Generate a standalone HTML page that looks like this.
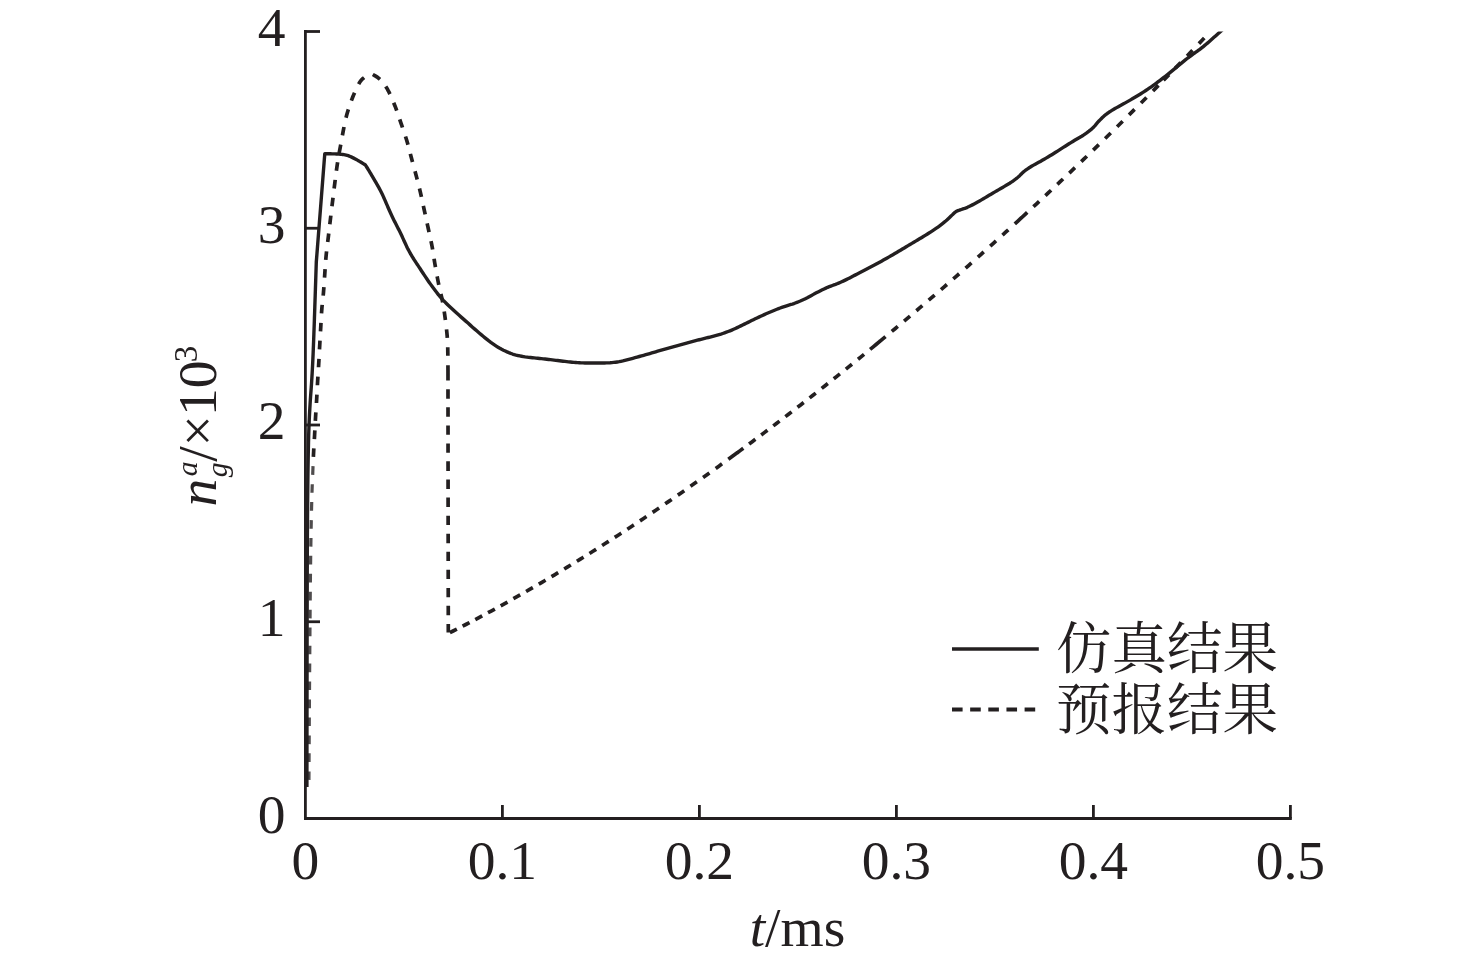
<!DOCTYPE html><html><head><meta charset="utf-8"><style>html,body{margin:0;padding:0;background:#fff;overflow:hidden;width:1476px;height:964px}svg{display:block}</style></head><body>
<svg width="1476" height="964" viewBox="0 0 1476 964">
<rect width="1476" height="964" fill="#fff"/>
<defs><clipPath id="pa"><rect x="300" y="31.5" width="1000" height="790"/></clipPath></defs>
<g clip-path="url(#pa)">
<path d="M306.9 787L306.91 782.03L306.92 770.37L306.94 754.27L306.96 735.96L306.98 717.71L307 701.75L307.02 687.95L307.04 674.14L307.05 660.37L307.08 646.72L307.1 633.24L307.12 620L307.15 607.88L307.18 595.83L307.21 583.93L307.24 572.26L307.28 560.92L307.33 550L307.37 541.11L307.41 532.5L307.46 524.12L307.52 515.93L307.58 507.9L307.65 500L307.72 493.08L307.79 486.31L307.86 479.67L307.94 473.13L308.04 466.67L308.15 460.25L308.26 454.26L308.38 448.29L308.5 442.38L308.65 436.59L308.81 430.94L309 425.5L309.19 421.02L309.39 416.67L309.61 412.43L309.84 408.29L310.08 404.23L310.32 400.25L310.55 396.83L310.79 393.53L311.03 390.29L311.27 387.07L311.51 383.83L311.72 380.5L311.94 376.94L312.15 373.37L312.34 369.77L312.53 366.11L312.72 362.36L312.9 358.5L313.11 353.89L313.3 349.14L313.49 344.27L313.68 339.31L313.87 334.29L314.05 329.25L314.25 323.76L314.44 318.17L314.63 312.52L314.82 306.83L315.01 301.15L315.2 295.5L315.41 289.18L315.65 281.99L315.88 274.81L316.09 268.5L316.24 263.94L316.3 262L316.98 253.36L318.54 233.4L320.55 207.8L322.56 182.2L324.12 162.24L324.8 153.6L325.22 153.61L326.2 153.64L327.56 153.68L329.12 153.73L330.7 153.78L332.1 153.83L333.47 153.87L334.87 153.9L336.28 153.94L337.7 154L339.08 154.08L340.43 154.2L341.61 154.33L342.77 154.48L343.91 154.65L345.04 154.85L346.14 155.09L347.23 155.38L348.24 155.7L349.24 156.07L350.21 156.48L351.18 156.92L352.15 157.38L353.12 157.85L354.18 158.38L355.25 158.94L356.31 159.53L357.38 160.13L358.43 160.74L359.48 161.35L360.61 162.02L361.88 162.8L363.15 163.59L364.26 164.28L365.06 164.79L365.4 165L365.62 165.34L366.13 166.15L366.83 167.27L367.63 168.53L368.42 169.8L369.1 170.9L369.66 171.83L370.22 172.76L370.76 173.69L371.3 174.62L371.84 175.54L372.38 176.45L372.89 177.33L373.4 178.2L373.91 179.06L374.42 179.93L374.93 180.81L375.45 181.7L376.01 182.66L376.58 183.63L377.15 184.6L377.73 185.6L378.3 186.61L378.88 187.65L379.51 188.83L380.14 190.04L380.78 191.28L381.41 192.54L382.04 193.8L382.65 195.07L383.26 196.39L383.86 197.73L384.45 199.07L385.04 200.42L385.62 201.77L386.2 203.1L386.76 204.39L387.31 205.68L387.86 206.96L388.41 208.23L388.96 209.51L389.52 210.78L390.09 212.03L390.65 213.27L391.23 214.52L391.8 215.76L392.38 216.99L392.98 218.23L393.57 219.45L394.18 220.67L394.8 221.89L395.41 223.1L396.03 224.31L396.65 225.52L397.27 226.73L397.89 227.93L398.51 229.12L399.13 230.32L399.75 231.53L400.35 232.75L400.95 234.01L401.55 235.28L402.14 236.57L402.72 237.85L403.31 239.14L403.9 240.43L404.5 241.72L405.09 243.02L405.69 244.33L406.29 245.63L406.9 246.91L407.52 248.18L408.14 249.38L408.77 250.57L409.41 251.76L410.06 252.92L410.71 254.08L411.38 255.22L412.03 256.33L412.7 257.42L413.38 258.5L414.07 259.57L414.75 260.63L415.42 261.68L416.06 262.64L416.68 263.58L417.3 264.5L417.92 265.43L418.56 266.38L419.22 267.38L420 268.54L420.77 269.73L421.57 270.95L422.39 272.21L423.25 273.5L424.15 274.85L425.34 276.63L426.6 278.5L427.91 280.44L429.27 282.42L430.65 284.39L432.05 286.32L433.53 288.32L435.03 290.33L436.56 292.33L438.14 294.32L439.75 296.28L441.4 298.2L443.11 300.08L444.86 301.91L446.65 303.71L448.48 305.49L450.36 307.29L452.27 309.1L454.42 311.09L456.64 313.09L458.9 315.09L461.19 317.1L463.48 319.1L465.75 321.1L468 323.1L470.26 325.13L472.52 327.15L474.77 329.14L477 331.09L479.2 332.98L481.17 334.64L483.12 336.29L485.05 337.89L486.97 339.44L488.89 340.94L490.82 342.38L492.62 343.65L494.42 344.88L496.22 346.06L498.02 347.19L499.84 348.26L501.68 349.28L503.45 350.2L505.25 351.07L507.05 351.9L508.87 352.67L510.69 353.38L512.52 354.02L514.31 354.58L516.11 355.08L517.92 355.52L519.74 355.91L521.56 356.27L523.38 356.6L525.17 356.89L526.98 357.14L528.78 357.35L530.59 357.54L532.39 357.73L534.2 357.92L536 358.12L537.81 358.31L539.61 358.49L541.42 358.67L543.22 358.86L545.02 359.05L546.83 359.25L548.64 359.46L550.45 359.68L552.26 359.89L554.07 360.11L555.88 360.33L557.68 360.54L559.49 360.77L561.3 360.99L563.11 361.21L564.92 361.42L566.73 361.62L568.53 361.82L570.34 362.02L572.15 362.21L573.96 362.39L575.77 362.54L577.58 362.67L579.38 362.78L581.18 362.86L582.99 362.92L584.79 362.97L586.6 363L588.4 363.03L590.2 363.04L592.01 363.04L593.81 363.02L595.62 363L597.42 362.97L599.23 362.95L601.03 362.94L602.84 362.94L604.65 362.93L606.46 362.91L608.27 362.86L610.08 362.75L611.88 362.6L613.68 362.42L615.48 362.2L617.28 361.95L619.1 361.66L620.92 361.32L622.88 360.92L624.84 360.45L626.82 359.94L628.81 359.4L630.81 358.85L632.83 358.3L634.96 357.72L637.12 357.13L639.3 356.51L641.48 355.9L643.64 355.28L645.77 354.67L647.79 354.1L649.8 353.52L651.79 352.94L653.77 352.36L655.73 351.79L657.67 351.23L659.51 350.7L661.33 350.17L663.13 349.66L664.93 349.14L666.72 348.63L668.52 348.12L670.33 347.62L672.14 347.13L673.95 346.63L675.76 346.14L677.57 345.65L679.38 345.15L681.18 344.65L682.98 344.15L684.79 343.64L686.59 343.14L688.39 342.64L690.2 342.15L692 341.66L693.81 341.18L695.61 340.71L697.41 340.23L699.22 339.76L701.02 339.3L702.83 338.85L704.64 338.4L706.45 337.96L708.26 337.52L710.07 337.07L711.88 336.6L713.69 336.12L715.5 335.63L717.31 335.14L719.12 334.62L720.93 334.08L722.72 333.5L724.55 332.87L726.36 332.21L728.17 331.52L729.98 330.81L731.78 330.06L733.58 329.3L735.39 328.49L737.2 327.65L739 326.78L740.8 325.89L742.6 325L744.4 324.12L746.2 323.25L748.01 322.36L749.81 321.46L751.61 320.58L753.42 319.69L755.23 318.82L757.03 317.97L758.83 317.12L760.64 316.28L762.45 315.45L764.26 314.63L766.08 313.82L767.88 313.03L769.7 312.24L771.53 311.46L773.34 310.69L775.14 309.96L776.92 309.25L778.57 308.62L780.21 308.02L781.83 307.44L783.44 306.88L785.04 306.34L786.62 305.8L788.09 305.32L789.53 304.88L790.96 304.45L792.39 304.02L793.83 303.55L795.3 303.02L796.94 302.4L798.61 301.73L800.29 301.03L801.98 300.28L803.69 299.51L805.4 298.7L807.28 297.76L809.17 296.74L811.08 295.69L812.99 294.62L814.9 293.57L816.8 292.57L818.62 291.65L820.45 290.72L822.27 289.82L824.08 288.94L825.88 288.11L827.65 287.32L829.25 286.67L830.84 286.08L832.42 285.51L833.99 284.96L835.55 284.39L837.1 283.77L838.63 283.13L840.15 282.47L841.66 281.79L843.17 281.09L844.7 280.37L846.25 279.62L847.97 278.78L849.7 277.89L851.46 276.98L853.23 276.06L855.01 275.13L856.8 274.2L858.68 273.24L860.57 272.28L862.48 271.31L864.39 270.33L866.3 269.34L868.2 268.35L870.1 267.34L872.01 266.33L873.91 265.31L875.81 264.28L877.7 263.24L879.6 262.2L881.5 261.15L883.41 260.09L885.31 259.02L887.21 257.94L889.1 256.86L891 255.78L892.9 254.67L894.81 253.56L896.71 252.45L898.6 251.33L900.5 250.2L902.4 249.07L904.3 247.94L906.2 246.8L908.1 245.66L910 244.51L911.9 243.37L913.8 242.22L915.71 241.09L917.62 239.95L919.53 238.82L921.44 237.68L923.34 236.54L925.22 235.38L927.11 234.2L929 233.03L930.88 231.84L932.74 230.64L934.57 229.43L936.35 228.2L938 227.02L939.64 225.82L941.24 224.6L942.8 223.39L944.3 222.19L945.73 221L946.88 219.99L947.98 218.97L949.05 217.95L950.07 216.96L951.05 216.01L952 215.12L952.71 214.46L953.37 213.8L954.01 213.18L954.65 212.59L955.31 212.05L956 211.57L956.66 211.21L957.34 210.91L958.02 210.65L958.73 210.4L959.47 210.16L960.25 209.87L961.32 209.49L962.45 209.11L963.63 208.71L964.85 208.29L966.1 207.82L967.38 207.3L968.99 206.57L970.67 205.75L972.4 204.87L974.15 203.94L975.92 202.99L977.67 202.02L979.55 200.97L981.45 199.88L983.35 198.75L985.27 197.6L987.18 196.46L989.1 195.32L991.05 194.18L993.01 193.04L994.97 191.89L996.93 190.74L998.86 189.6L1000.77 188.47L1002.59 187.42L1004.41 186.37L1006.22 185.33L1007.99 184.29L1009.69 183.25L1011.3 182.2L1012.6 181.3L1013.86 180.41L1015.06 179.51L1016.22 178.61L1017.34 177.71L1018.42 176.8L1019.34 175.97L1020.19 175.13L1021 174.29L1021.82 173.45L1022.66 172.63L1023.58 171.82L1024.62 170.98L1025.7 170.16L1026.82 169.36L1027.98 168.57L1029.18 167.77L1030.43 166.98L1031.96 166.05L1033.57 165.13L1035.24 164.22L1036.95 163.3L1038.68 162.37L1040.4 161.4L1042.26 160.33L1044.16 159.23L1046.07 158.11L1048 156.98L1049.92 155.83L1051.82 154.68L1053.74 153.49L1055.65 152.28L1057.56 151.06L1059.46 149.83L1061.37 148.61L1063.28 147.4L1065.18 146.2L1067.1 144.99L1069.02 143.79L1070.93 142.6L1072.83 141.43L1074.7 140.27L1076.46 139.22L1078.22 138.21L1079.97 137.2L1081.69 136.2L1083.35 135.18L1084.95 134.12L1086.34 133.16L1087.68 132.18L1088.97 131.2L1090.24 130.19L1091.46 129.15L1092.65 128.07L1093.76 126.96L1094.82 125.79L1095.83 124.59L1096.84 123.38L1097.87 122.19L1098.95 121.02L1100.08 119.86L1101.23 118.71L1102.39 117.56L1103.59 116.44L1104.82 115.35L1106.1 114.3L1107.48 113.27L1108.92 112.29L1110.39 111.34L1111.9 110.41L1113.43 109.5L1114.97 108.57L1116.64 107.61L1118.34 106.66L1120.06 105.72L1121.8 104.78L1123.54 103.84L1125.28 102.88L1127.03 101.88L1128.8 100.87L1130.57 99.86L1132.34 98.84L1134.09 97.81L1135.82 96.78L1137.51 95.75L1139.18 94.73L1140.84 93.7L1142.49 92.65L1144.14 91.59L1145.8 90.5L1147.51 89.36L1149.22 88.2L1150.92 87.03L1152.63 85.83L1154.35 84.6L1156.08 83.35L1157.92 81.98L1159.78 80.58L1161.64 79.15L1163.5 77.69L1165.36 76.23L1167.2 74.78L1169.03 73.31L1170.86 71.82L1172.69 70.32L1174.49 68.83L1176.28 67.36L1178.02 65.92L1179.6 64.64L1181.15 63.36L1182.68 62.1L1184.19 60.87L1185.68 59.67L1187.15 58.53L1188.42 57.56L1189.67 56.64L1190.9 55.75L1192.12 54.87L1193.35 53.99L1194.57 53.1L1195.81 52.2L1197.04 51.32L1198.27 50.43L1199.5 49.54L1200.73 48.61L1201.97 47.65L1203.33 46.56L1204.7 45.43L1206.07 44.27L1207.45 43.09L1208.81 41.91L1210.17 40.73L1211.54 39.53L1212.89 38.32L1214.25 37.1L1215.59 35.89L1216.94 34.67L1218.28 33.48L1219.74 32.17L1221.4 30.69L1223.05 29.22L1224.51 27.93L1225.55 27L1226 26.6" fill="none" stroke="#231f20" stroke-width="3.4" stroke-linejoin="round"/>
<path d="M313.39 456.86L313.46 455.22L313.54 453.58L313.63 451.93L313.71 450.29L313.81 448.64L313.82 448.37M314.37 439.03L314.47 437.36L314.56 435.77L314.64 434.23L314.72 432.67L314.8 431.11L314.84 430.33M315.34 420.93L315.43 419.39L315.52 417.82L315.62 416.16L315.72 414.5L315.82 412.85L315.86 412.3M316.45 403L316.55 401.33L316.64 399.73L316.73 398.2L316.81 396.65L316.9 395.1L316.92 394.58M317.41 385.24L317.5 383.69L317.59 382.16L317.68 380.51L317.78 378.84L317.89 377.18L317.92 376.63M318.52 367.26L318.62 365.59L318.71 363.94L318.8 362.41L318.89 360.86L318.97 359.31L319 358.79M319.49 349.45L319.57 347.9L319.66 346.37L319.75 344.77L319.84 343.11L319.93 341.45L319.98 340.63M320.51 331.32L320.6 329.67L320.7 328L320.79 326.46L320.87 324.9L320.95 323.34L320.98 322.82M321.51 313.41L321.61 311.86L321.72 310.32L321.85 308.77L321.98 307.17L322.13 305.63L322.21 304.87M323.18 295.65L323.33 294.1L323.48 292.47L323.6 290.87L323.73 289.28L323.85 287.7L323.89 287.18M324.53 277.72L324.63 276.17L324.73 274.62L324.83 273.06L324.93 271.51L325.03 269.95L325.09 269.17M325.75 259.92L325.88 258.41L326.01 256.9L326.15 255.4L326.3 253.9L326.46 252.39L326.57 251.37M327.71 241.98L327.9 240.47L328.1 238.82L328.29 237.25L328.47 235.75L328.64 234.24L328.73 233.49M329.82 224.2L330 222.65L330.18 221.12L330.36 219.63L330.54 218.13L330.71 216.63L330.83 215.61M331.96 206.26L332.15 204.76L332.33 203.25L332.52 201.74L332.7 200.24L332.89 198.73L333.01 197.72M334.13 188.58L334.32 187.04L334.51 185.5L334.7 183.95L334.89 182.41L335.08 180.89L335.21 179.88M336.4 170.78L336.6 169.28L336.81 167.78L337.02 166.28L337.24 164.76L337.46 163.25L337.62 162.24M339.16 153.04L339.44 151.52L339.73 149.97L340.04 148.33L340.35 146.73L340.65 145.15L340.74 144.65M342.41 135.38L342.68 133.89L342.97 132.36L343.25 130.83L343.54 129.29L343.84 127.75L343.99 126.98M346 117.75L346.39 116.27L346.77 114.79L347.2 113.27L347.65 111.72L348.12 110.17L348.36 109.4M351.35 100.7L351.88 99.27L352.47 97.77L353.06 96.29L353.65 94.87L354.25 93.44L354.57 92.71M358.65 84.08L359.44 82.72L360.37 81.32L361.4 80L362.72 78.69L364.11 77.62M372.8 74.5L374.29 75.33L375.69 76.16L377.2 77.13L378.58 78.16L379.75 79.2L379.94 79.37M385.72 86.42L386.58 87.77L387.42 89.17L388.15 90.54L388.88 91.95L389.6 93.41L389.92 94.09M393.67 102.72L394.29 104.24L394.89 105.73L395.47 107.18L396.01 108.64L396.55 110.09L396.72 110.58M399.72 119.38L400.21 120.87L400.72 122.35L401.24 123.89L401.77 125.44L402.31 127.01L402.48 127.51M405.49 136.46L405.98 138.01L406.46 139.54L406.92 141.05L407.36 142.54L407.78 144.02L407.98 144.75M410.33 153.84L410.71 155.31L411.1 156.8L411.5 158.27L411.9 159.76L412.31 161.27L412.52 162.03M415.02 171.21L415.42 172.71L415.81 174.17L416.22 175.72L416.64 177.34L417.06 178.91L417.19 179.42M419.5 188.55L419.86 190.06L420.22 191.62L420.57 193.15L420.91 194.64L421.25 196.18L421.42 196.95M423.34 205.9L423.68 207.46L424.01 208.99L424.33 210.48L424.65 211.95L424.98 213.47L425.2 214.48M427.16 223.43L427.51 225.03L427.86 226.63L428.21 228.25L428.56 229.87L428.91 231.51L429.03 232.06M431 241.08L431.34 242.72L431.67 244.36L431.99 246.01L432.3 247.64L432.59 249.27L432.63 249.54M434.07 258.71L434.32 260.35L434.58 262L434.83 263.51L435.09 265.04L435.38 266.66L435.47 267.18M437.15 276.47L437.44 277.98L437.73 279.49L438.02 280.98L438.32 282.51L438.65 284.13L438.81 284.9M440.89 294.03L441.27 295.66L441.64 297.28L441.99 298.9L442.33 300.54L442.65 302.17L442.7 302.44M444.23 311.6L444.47 313.23L444.7 314.86L444.93 316.52L445.14 318.06L445.33 319.57L445.4 320.11M446.53 329.38L446.69 330.89L446.84 332.4L446.98 333.91L447.11 335.42L447.24 336.93L447.31 337.94M447.74 347.22L447.77 348.87L447.79 350.41L447.81 351.95L447.83 353.52L447.85 355.07L447.85 355.82M447.95 365.29L447.96 366.85L447.97 368.41L447.98 369.94L447.98 371.47L447.99 373L447.99 373.76M447.98 371.22L447.99 372.75L447.99 374.27L447.99 375.79L447.99 377.31L447.99 378.82L447.99 380.34L447.99 380.59M447.99 389.2L447.99 390.73L447.99 392.26L447.99 393.79L447.99 395.34L448 396.9L448 398.45L448 398.71M448.01 407.26L448.01 408.77L448.02 410.27L448.02 411.79L448.02 413.31L448.02 414.83L448.02 416.35L448.02 416.85M448.03 425.46L448.03 426.98L448.03 428.49L448.04 430.01L448.04 431.53L448.04 433.04L448.04 434.56L448.04 434.81M448.05 443.44L448.05 444.97L448.05 446.49L448.05 448.01L448.05 449.53L448.05 451.04L448.06 452.55L448.06 452.81M448.06 461.37L448.06 462.89L448.06 464.4L448.07 465.91L448.07 467.42L448.07 468.93L448.07 470.44L448.07 470.95M448.08 479.53L448.08 481.06L448.08 482.58L448.08 484.1L448.08 485.62L448.09 487.14L448.09 488.66L448.09 488.91M448.1 497.48L448.1 498.99L448.1 500.51L448.1 502.05L448.11 503.58L448.11 505.12L448.11 506.65L448.11 506.91M448.12 515.68L448.13 517.22L448.13 518.76L448.13 520.29L448.13 521.83L448.14 523.37L448.14 524.92M448.15 533.67L448.16 535.2L448.16 536.73L448.16 538.27L448.17 539.81L448.17 541.36L448.17 542.9L448.17 543.16M448.19 551.82L448.19 553.36L448.19 554.89L448.19 556.42L448.2 557.96L448.2 559.49L448.2 561.02M448.21 569.66L448.22 571.19L448.22 572.71L448.22 574.23L448.22 575.76L448.23 577.28L448.23 578.8L448.23 579.06M448.24 587.88L448.24 589.39L448.24 590.9L448.25 592.42L448.25 593.93L448.25 595.46L448.25 596.98L448.25 597.23M448.26 605.85L448.27 607.37L448.27 608.89L448.27 610.42L448.27 611.94L448.27 613.46L448.28 614.98L448.28 615.23M448.29 624.04L448.29 625.57L448.29 627.1L448.29 628.63L448.3 630.16L448.3 631.72L448.3 632.5M449.9 632.65L453.11 631.02L456.33 629.38L456.86 629.11M462.6 626.16L465.8 624.51L469 622.84L469.53 622.56M475.3 619.53L478.48 617.84L481.67 616.15L482.2 615.86M488 612.74L491.17 611.03L494.34 609.3L494.86 609.01M500.7 605.81L503.85 604.07L507 602.31L507.53 602.02M513.4 598.73L516.54 596.96L519.67 595.18L520.2 594.89M526.1 591.51L529.22 589.72L532.34 587.91L532.87 587.61M538.8 584.16L541.91 582.34L545.02 580.51L545.53 580.2M551.5 576.66L554.59 574.82L557.69 572.96L558.2 572.65M564.2 569.03L567.28 567.16L570.36 565.29L570.87 564.97M576.9 561.27L579.96 559.38L583.03 557.48L583.54 557.16M589.5 553.45L592.55 551.53L595.6 549.61L596.11 549.29M602.12 545.48L605.16 543.54L608.19 541.6L608.7 541.28M614.74 537.39L617.76 535.43L620.79 533.47L621.29 533.14M627.36 529.18L630.37 527.2L633.38 525.22L633.88 524.88M639.98 520.84L643.23 518.68L646.47 516.51M652.6 512.39L655.83 510.21L659.07 508.02M665.22 503.82L668.44 501.62L671.66 499.41M677.84 495.14L681.05 492.92L684.25 490.69M690.46 486.34L693.65 484.1L696.85 481.85M703.08 477.43L706.26 475.17L709.44 472.9M715.7 468.41L718.87 466.13L722.03 463.84M728.32 459.28L731.38 457.05L734.44 454.81L737.5 452.57M737 452.94L740.14 450.63L743.29 448.31M749.1 444.01L752.23 441.68L755.36 439.35M761.2 434.98L764.32 432.64L767.44 430.29M773.3 425.86L776.41 423.5L779.52 421.13M785.4 416.63L788.5 414.26L791.59 411.88M797.5 407.32L800.58 404.93L803.67 402.53M809.6 397.9L812.67 395.5L815.74 393.09M821.7 388.39L824.76 385.97L827.82 383.55M833.8 378.79L836.85 376.35L839.9 373.91M845.9 369.09L848.94 366.64L851.97 364.19M858 359.3L861.03 356.84L864.05 354.37M870.1 349.41L873.23 346.84L876.35 344.27L879.48 341.68L880 341.25M879.5 341.67L882.51 339.18L885.51 336.69M891.8 331.45L895.07 328.72L897.79 326.44M904.1 321.13L907.35 318.39L910.06 316.09M916.4 310.72L919.64 307.96L922.34 305.65M928.7 300.21L931.93 297.43L934.62 295.12M941 289.6L944.22 286.81L946.9 284.48M953.3 278.89L956.5 276.09L959.17 273.75M965.6 268.09L968.79 265.27L971.45 262.92M977.9 257.19L981.08 254.36L983.73 251.99M990.2 246.19L993.36 243.34L996 240.97M1002.5 235.09L1005.65 232.23L1008.28 229.84M1014.8 223.89L1017.89 221.07L1020.97 218.23L1022 217.29M1021.5 217.75L1024.63 214.87L1027.24 212.46M1033.45 206.72L1036.57 203.82L1039.17 201.4M1045.4 195.59L1048.51 192.68L1051.1 190.25M1057.35 184.37L1060.44 181.44L1063.02 179M1069.3 173.04L1072.38 170.11L1074.95 167.65M1081.25 161.62L1084.32 158.67L1086.88 156.21M1093.2 150.1L1096.26 147.14L1098.8 144.66M1105.15 138.48L1108.19 135.5L1110.73 133.01M1117.1 126.75L1120.13 123.76L1122.66 121.26M1129.05 114.92L1132.07 111.92L1134.58 109.41M1141 102.99L1144 99.97L1146.51 97.45M1152.95 90.94L1156.24 87.61L1158.43 85.38M1163.5 80.22L1166.78 76.88L1168.96 74.64M1175.3 68.13L1178.56 64.77L1180.74 62.53M1187.1 55.93L1190.35 52.56L1192.51 50.3M1198.9 43.62L1202.13 40.23L1204.28 37.97" fill="none" stroke="#231f20" stroke-width="3.7"/>
<path d="M308.94 779.88L308.95 778.36L308.96 776.81L308.97 775.27L308.98 773.73L308.99 772.18L308.99 771.41M309.04 761.96L309.05 760.43L309.06 758.91L309.07 757.38L309.08 755.85L309.09 754.32L309.1 753.31M309.15 744.13L309.16 742.6L309.17 741.08L309.18 739.55L309.19 738.01L309.2 736.47L309.2 735.45M309.26 726.04L309.27 724.53L309.28 723.02L309.29 721.51L309.3 720L309.31 718.47L309.32 717.45M309.38 708.25L309.39 706.71L309.4 705.17L309.41 703.63L309.42 702.09L309.43 700.55L309.44 699.52M309.5 690.11L309.51 688.6L309.52 687.1L309.53 685.6L309.55 684.09L309.56 682.59L309.56 681.58M309.63 672.3L309.64 670.8L309.65 669.29L309.66 667.79L309.68 666.28L309.69 664.78L309.7 663.52M309.77 654.26L309.78 652.75L309.79 651.25L309.8 649.75L309.81 648.23L309.83 646.72L309.83 645.71M309.91 636.31L309.92 634.78L309.93 633.25L309.94 631.71L309.95 630.17L309.97 628.63L309.97 627.6M310.05 618.37L310.06 616.83L310.07 615.29L310.08 613.76L310.1 612.24L310.11 610.72L310.12 609.7M310.2 600.52L310.21 598.98L310.22 597.44L310.24 595.9L310.25 594.36L310.27 592.82L310.28 591.79M310.37 582.56L310.39 581.02L310.41 579.48L310.42 577.94L310.44 576.39L310.46 574.85L310.47 573.82M310.58 564.44L310.6 562.9L310.62 561.36L310.64 559.83L310.66 558.32L310.68 556.81L310.69 555.81M310.82 546.62L310.85 545.1L310.87 543.59L310.89 542.07L310.92 540.53L310.94 538.97L310.96 537.94M311.12 528.73L311.15 527.2L311.18 525.68L311.21 524.16L311.24 522.64L311.27 521.12L311.3 520.1M311.5 510.69L311.54 509.16L311.57 507.65L311.61 506.14L311.65 504.62L311.69 503.09L311.71 502.06M311.98 492.78L312.03 491.23L312.08 489.7L312.13 488.12L312.19 486.52L312.25 485L312.28 484.23M312.68 474.92L312.75 473.33L312.81 471.75L312.87 470.25L312.93 468.63L312.99 466.97L313.02 466.14" fill="none" stroke="#231f20" stroke-width="3.2" opacity="0.8"/>
</g>
<g stroke="#231f20" fill="none" stroke-width="2.8">
<path d="M305.4 30.1V818.5H1291.8"/>
<path d="M305.4 621.75H320"/>
<path d="M305.4 425H320"/>
<path d="M305.4 228.25H320"/>
<path d="M305.4 31.5H320"/>
<path d="M502.4 818.5V805"/>
<path d="M699.4 818.5V805"/>
<path d="M896.4 818.5V805"/>
<path d="M1093.4 818.5V805"/>
<path d="M1290.4 818.5V805"/>
</g>
<g font-family="Liberation Serif, serif" font-size="55.5" fill="#231f20">
<text x="285.5" y="832.9" text-anchor="end">0</text>
<text x="285.5" y="636.15" text-anchor="end">1</text>
<text x="285.5" y="439.4" text-anchor="end">2</text>
<text x="285.5" y="242.65" text-anchor="end">3</text>
<text x="285.5" y="45.9" text-anchor="end">4</text>
<text x="305.4" y="879.2" text-anchor="middle">0</text>
<text x="502.4" y="879.2" text-anchor="middle">0.1</text>
<text x="699.4" y="879.2" text-anchor="middle">0.2</text>
<text x="896.4" y="879.2" text-anchor="middle">0.3</text>
<text x="1093.4" y="879.2" text-anchor="middle">0.4</text>
<text x="1290.4" y="879.2" text-anchor="middle">0.5</text>
<text x="797.5" y="945.8" text-anchor="middle"><tspan font-style="italic">t</tspan>/ms</text>
</g>
<g font-family="Liberation Serif, serif" fill="#231f20" style="will-change:transform">
<text transform="translate(216.3 506.5) rotate(-90)" font-size="55.5" font-style="italic">n</text>
<text transform="translate(197.1 476.2) rotate(-90)" font-size="29.5" font-style="italic">a</text>
<text transform="translate(226.5 477.3) rotate(-90)" font-size="29.5" font-style="italic">g</text>
<text transform="translate(216.3 461.7) rotate(-90)" font-size="55.5">/</text>
<text transform="translate(216.3 446.5) rotate(-90)" font-size="55.5">×</text>
<text transform="translate(216.3 415.9) rotate(-90)" font-size="55.5">10</text>
<text transform="translate(197.4 362.2) rotate(-90)" font-size="33">3</text>
</g>
<path d="M952 649H1038.8" stroke="#231f20" stroke-width="3.7"/>
<path d="M952 709.6H1035.4" stroke="#231f20" stroke-width="4" stroke-dasharray="10.6 7.55"/>
<g font-family="Liberation Serif, 'Noto Serif CJK SC', serif" font-size="55.5" fill="#231f20">
<text x="1056" y="668">仿真结果</text>
<text x="1056" y="728.5">预报结果</text>
</g>
</svg></body></html>
